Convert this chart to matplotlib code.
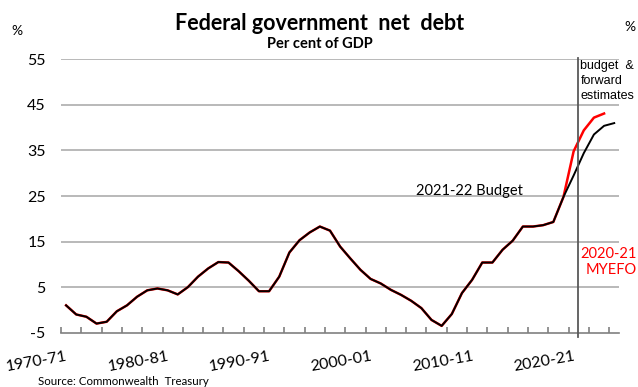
import matplotlib
matplotlib.use("Agg")
import matplotlib.pyplot as plt
import matplotlib.transforms as mtransforms

# ---------------- data ----------------
start_years = list(range(1970, 2025))
categories = [f"{y}-{str(y + 1)[-2:]}" for y in start_years]

history = [1.0, -1.0, -1.5, -3.0, -2.6, -0.3, 1.0, 2.9, 4.3, 4.7,
           4.3, 3.4, 5.0, 7.3, 9.1, 10.5, 10.4, 8.5, 6.4, 4.1,
           4.1, 7.3, 12.6, 15.3, 17.0, 18.3, 17.4, 13.9, 11.3, 8.8,
           6.8, 5.8, 4.4, 3.3, 2.0, 0.4, -2.2, -3.5, -0.9, 3.7,
           6.6, 10.4, 10.4, 13.2, 15.2, 18.3, 18.3, 18.6, 19.3, 24.8]
budget_2021_22 = [29.5, 34.4, 38.5, 40.4, 41.0]
myefo_2020_21 = [34.8, 39.4, 42.2, 43.1]

tick_labels = ["1970-71", "1980-81", "1990-91", "2000-01", "2010-11", "2020-21"]
y_ticks = [-5, 5, 15, 25, 35, 45, 55]

# ---------------- figure ----------------
W, H = 638, 387
fig = plt.figure(figsize=(W / 100, H / 100), dpi=100)
ax = fig.add_axes([61 / W, 1 - 332.7 / H, 558.3 / W, 273.4 / H])

CAL = ["Lato", "DejaVu Sans"]
ARI = ["Liberation Sans", "DejaVu Sans"]

black_vals = history + budget_2021_22
red_vals = history + myefo_2020_21
x_black = list(range(len(black_vals)))
x_red = list(range(len(red_vals)))

ax.plot(x_red, red_vals, color="#ff0000", lw=1.8, solid_joinstyle="round", zorder=3)
ax.plot(x_black, black_vals, color="#000000", lw=1.4, solid_joinstyle="round", zorder=4)

ax.set_xlim(-0.5, len(categories) - 0.5)
ax.set_ylim(-5, 55)

for s in ["top", "left", "right"]:
    ax.spines[s].set_visible(False)
ax.spines["bottom"].set_color("#808080")
ax.spines["bottom"].set_linewidth(1.2)

ax.set_yticks(y_ticks)
ax.set_yticklabels([str(v) for v in y_ticks], fontsize=11.5, family=CAL)
ax.tick_params(axis="y", length=0, pad=11)
for v in y_ticks[1:]:
    ax.axhline(v, color="#a6a6a6", lw=1.1, zorder=1)

ax.set_xticks([-0.5 + 2 * k for k in range(28)])
ax.set_xticklabels([])
ax.tick_params(axis="x", direction="in", length=4.5, color="#808080", width=1.2)

# rotated category labels
trans = mtransforms.blended_transform_factory(ax.transData, ax.transAxes)
off = mtransforms.ScaledTranslation(0, -17 / 100, fig.dpi_scale_trans)
for lab in tick_labels:
    i = categories.index(lab)
    ax.text(i, 0, lab, transform=trans + off, rotation=10, rotation_mode="anchor",
            ha="right", va="top", fontsize=11.5, family=CAL)

# forecast divider
ax.plot([50.45, 50.45], [-5.9, 55.3], color="#595959", lw=1.3, clip_on=False, zorder=5)

# annotations
ax.text(39.77, 26.0, "2021-22 Budget", fontsize=10.5, family=CAL, ha="center", va="center")
fig.text(580.5 / W, 1 - 66 / H, "budget  &", fontsize=9, family=ARI, va="center", ha="left")
fig.text(580.5 / W, 1 - 81 / H, "forward", fontsize=9, family=ARI, va="center", ha="left")
fig.text(580.5 / W, 1 - 96 / H, "estimates", fontsize=9, family=ARI, va="center", ha="left")
fig.text(636.5 / W, 1 - 253.5 / H, "2020-21", fontsize=10.5, family=CAL, color="#ff0000",
         va="center", ha="right")
fig.text(636.5 / W, 1 - 270 / H, "MYEFO", fontsize=10.5, family=CAL, color="#ff0000",
         va="center", ha="right")

fig.text(320 / W, 1 - 23 / H, "Federal government  net  debt", fontsize=15.5, family=CAL,
         fontweight="bold", ha="center", va="center")
fig.text(320 / W, 1 - 44 / H, "Per cent of GDP", fontsize=10.5, family=CAL,
         fontweight="bold", ha="center", va="center")
fig.text(17 / W, 1 - 31 / H, "%", fontsize=10, family=CAL, ha="center", va="center")
fig.text(629.5 / W, 1 - 27 / H, "%", fontsize=10, family=CAL, ha="center", va="center")
fig.text(38 / W, 1 - 381.5 / H, "Source: Commonwealth  Treasury", fontsize=8.3, family=CAL,
         ha="left", va="center")

fig.savefig("out.png", dpi=100)
